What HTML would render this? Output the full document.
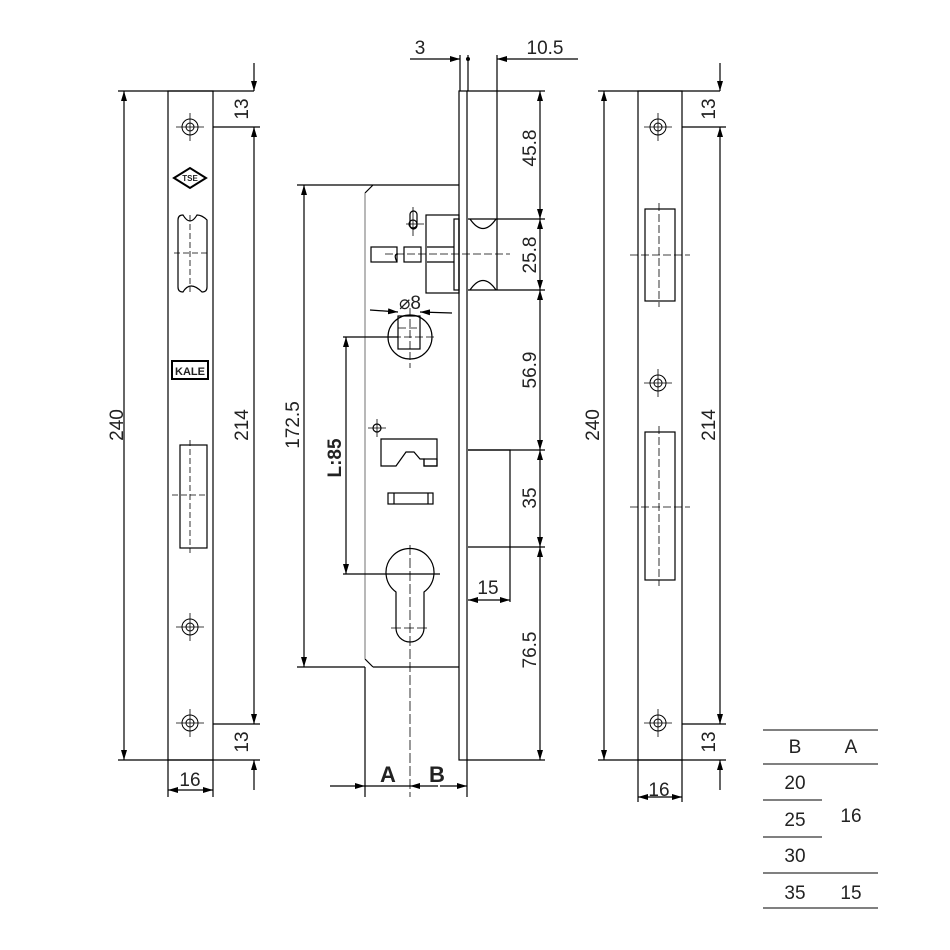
<!DOCTYPE html>
<html><head><style>body{margin:0;background:#fff}svg{display:block}text{font-family:"Liberation Sans",sans-serif;fill:#222}</style></head><body>
<svg width="950" height="950" viewBox="0 0 950 950" xmlns="http://www.w3.org/2000/svg">
<defs>
<marker id="a" viewBox="0 0 10 6" refX="10" refY="3" markerWidth="10" markerHeight="6" orient="auto-start-reverse" markerUnits="userSpaceOnUse"><path d="M0,0L10,3L0,6z" fill="#000"/></marker>
<g id="hole"><circle r="8" fill="none" stroke="#000"/><circle r="4" fill="none" stroke="#000"/><path d="M-14,0H14M0,-14V14" stroke="#000" stroke-width="0.8"/></g>
</defs>
<g stroke="#000" stroke-width="1.2" fill="none">
<!-- LEFT PLATE -->
<rect x="168" y="91" width="45" height="669"/>
<path d="M118,91H254M118,760H260M213,127H260M213,724H260"/>
<line x1="124" y1="91" x2="124" y2="760" marker-start="url(#a)" marker-end="url(#a)"/>
<line x1="254" y1="63" x2="254" y2="91" marker-end="url(#a)"/>
<line x1="254" y1="127" x2="254" y2="724" marker-start="url(#a)" marker-end="url(#a)"/>
<line x1="254" y1="790" x2="254" y2="760" marker-end="url(#a)"/>
<path d="M168,760V797M213,760V797"/>
<line x1="168" y1="790" x2="213" y2="790" marker-start="url(#a)" marker-end="url(#a)"/>
<path d="M178,220Q178,215 183,215Q190,227 197,215Q202,215 207,220V287Q207,292 202,292Q190,280 183,292Q178,292 178,287Z"/>
<path d="M174,253H207M190,215V292" stroke-dasharray="6,3" stroke-width="0.8"/>
<rect x="180" y="445" width="27" height="103"/>
<path d="M172,495H208M190,440V553" stroke-dasharray="6,3" stroke-width="0.8"/>
<!-- CENTER -->
<rect x="459" y="91" width="8" height="669"/>
<path d="M460,55V91M468,55V91M497,55V219M497,290V91"/>
<line x1="410" y1="59" x2="460" y2="59" marker-end="url(#a)"/>
<line x1="578" y1="59" x2="497" y2="59" marker-end="url(#a)"/>
<path d="M373,185H459M365,193L373,185M365,659L373,667M373,667H459"/>
<path d="M365,193V659" stroke="#888"/>
<path d="M297,185H373M297,667H365"/>
<line x1="304" y1="185" x2="304" y2="667" marker-start="url(#a)" marker-end="url(#a)"/>
<rect x="426" y="215" width="33" height="78"/>
<rect x="454" y="219" width="5" height="71"/>
<path d="M468,219H545M468,290H545M467,91H545M467,760H545M468,450H545M468,547H545"/>
<path d="M470,219Q483,238 496,219M470,290Q483,271 496,290"/>
<rect x="371" y="247" width="26" height="15"/>
<rect x="404" y="247" width="17" height="15"/>
<path d="M427,247H454M427,262H454"/>
<path d="M385,254H510" stroke-dasharray="8,3" stroke-width="0.8"/>
<path d="M398,254Q393,254 397,262" />
<rect x="410" y="211" width="7" height="18" rx="3.5"/>
<path d="M406,224H424M413,207V236" stroke-width="0.8"/>
<circle cx="413" cy="224" r="4"/>
<line x1="540" y1="91" x2="540" y2="219" marker-start="url(#a)" marker-end="url(#a)"/>
<line x1="540" y1="219" x2="540" y2="290" marker-start="url(#a)" marker-end="url(#a)"/>
<line x1="540" y1="290" x2="540" y2="450" marker-start="url(#a)" marker-end="url(#a)"/>
<line x1="540" y1="450" x2="540" y2="547" marker-start="url(#a)" marker-end="url(#a)"/>
<line x1="540" y1="547" x2="540" y2="760" marker-start="url(#a)" marker-end="url(#a)"/>
<path d="M468,450H510V547M510,547V602"/>
<line x1="468" y1="600" x2="510" y2="600" marker-start="url(#a)" marker-end="url(#a)"/>
<circle cx="410" cy="337" r="22"/>
<rect x="398" y="316" width="22" height="33"/>
<path d="M398,328H420M382,337H436M410,308V368" stroke-width="0.8" stroke-dasharray="8,3"/>
<line x1="370" y1="310" x2="398" y2="312" marker-end="url(#a)"/>
<line x1="452" y1="313" x2="420" y2="312" marker-end="url(#a)"/>
<path d="M343,337H398M343,574H440"/>
<line x1="346" y1="337" x2="346" y2="574" marker-start="url(#a)" marker-end="url(#a)"/>
<circle cx="377" cy="428" r="4"/><path d="M368,428H386M377,419V437" stroke-width="0.8"/>
<path d="M381,439H437V466H424V459H420L414,452H406L396,466H381Z"/>
<rect x="424" y="459" width="13" height="7"/>
<rect x="388" y="493" width="45" height="11"/><path d="M394,493V504M428,493V504"/>
<path d="M396,592A24,24 0 1 1 424,592V628A14,14 0 0 1 396,628Z"/>
<path d="M410,545V797M391,628H428" stroke-width="0.8" stroke-dasharray="10,3"/>
<path d="M365,667V797M467,760V797"/>
<line x1="330" y1="786" x2="365" y2="786" marker-end="url(#a)"/>
<line x1="365" y1="786" x2="410" y2="786"/>
<line x1="438" y1="786" x2="410" y2="786" marker-end="url(#a)"/>
<line x1="440" y1="786" x2="467" y2="786" marker-end="url(#a)"/>
<!-- RIGHT PLATE -->
<rect x="638" y="91" width="44" height="669"/>
<path d="M598,91H720M598,760H726M682,127H726M682,724H726"/>
<line x1="604" y1="91" x2="604" y2="760" marker-start="url(#a)" marker-end="url(#a)"/>
<line x1="720" y1="63" x2="720" y2="91" marker-end="url(#a)"/>
<line x1="720" y1="127" x2="720" y2="724" marker-start="url(#a)" marker-end="url(#a)"/>
<line x1="720" y1="790" x2="720" y2="760" marker-end="url(#a)"/>
<rect x="645" y="209" width="30" height="92"/>
<rect x="645" y="432" width="30" height="148"/>
<path d="M630,255H690M630,507H690M659,203V307M659,426V586" stroke-width="0.8" stroke-dasharray="8,3"/>
<path d="M638,760V802M682,760V802"/>
<line x1="638" y1="797" x2="682" y2="797" marker-start="url(#a)" marker-end="url(#a)"/>
<!-- TABLE -->
<path d="M763,730H878M763,764H878M763,800H822M763,837H822M763,873H878M763,908H878" stroke-width="1"/>
</g>
<circle cx="468" cy="59" r="2" fill="#000"/>
<use href="#hole" x="190" y="127"/><use href="#hole" x="190" y="627"/><use href="#hole" x="190" y="723"/>
<use href="#hole" x="658" y="127"/><use href="#hole" x="658" y="383"/><use href="#hole" x="658" y="723"/>
<path d="M174,178L190,168L206,178L190,188Z" fill="#fff" stroke="#000" stroke-width="2"/>
<text x="190" y="181" font-size="8" font-weight="bold" text-anchor="middle">TSE</text>
<rect x="172" y="361" width="36" height="18" fill="#fff" stroke="#000" stroke-width="2"/>
<text x="190" y="375" font-size="11" font-weight="bold" text-anchor="middle">KALE</text>
<g font-size="19">
<text transform="translate(248,109) rotate(-90)" text-anchor="middle">13</text>
<text transform="translate(248,425) rotate(-90)" text-anchor="middle">214</text>
<text transform="translate(123,425) rotate(-90)" text-anchor="middle">240</text>
<text transform="translate(248,742) rotate(-90)" text-anchor="middle">13</text>
<text x="190" y="786" text-anchor="middle">16</text>
<text x="420" y="54" text-anchor="middle">3</text>
<text x="545" y="54" text-anchor="middle">10.5</text>
<text transform="translate(299,425) rotate(-90)" text-anchor="middle">172.5</text>
<text transform="translate(536,148) rotate(-90)" text-anchor="middle">45.8</text>
<text transform="translate(536,255) rotate(-90)" text-anchor="middle">25.8</text>
<text transform="translate(536,370) rotate(-90)" text-anchor="middle">56.9</text>
<text transform="translate(536,498) rotate(-90)" text-anchor="middle">35</text>
<text transform="translate(536,650) rotate(-90)" text-anchor="middle">76.5</text>
<text x="488" y="594" text-anchor="middle">15</text>
<text x="410" y="309" text-anchor="middle">⌀8</text>
<text transform="translate(341,458) rotate(-90)" text-anchor="middle" font-weight="bold">L:85</text>
<text x="388" y="782" text-anchor="middle" font-weight="bold" font-size="22">A</text>
<text x="437" y="782" text-anchor="middle" font-weight="bold" font-size="22">B</text>
<text transform="translate(715,109) rotate(-90)" text-anchor="middle">13</text>
<text transform="translate(715,425) rotate(-90)" text-anchor="middle">214</text>
<text transform="translate(599,425) rotate(-90)" text-anchor="middle">240</text>
<text transform="translate(715,742) rotate(-90)" text-anchor="middle">13</text>
<text x="659" y="796" text-anchor="middle">16</text>
<text x="795" y="753" text-anchor="middle">B</text>
<text x="851" y="753" text-anchor="middle">A</text>
<text x="795" y="789" text-anchor="middle">20</text>
<text x="795" y="826" text-anchor="middle">25</text>
<text x="795" y="862" text-anchor="middle">30</text>
<text x="795" y="899" text-anchor="middle">35</text>
<text x="851" y="822" text-anchor="middle">16</text>
<text x="851" y="899" text-anchor="middle">15</text>
</g>
</svg>
</body></html>
